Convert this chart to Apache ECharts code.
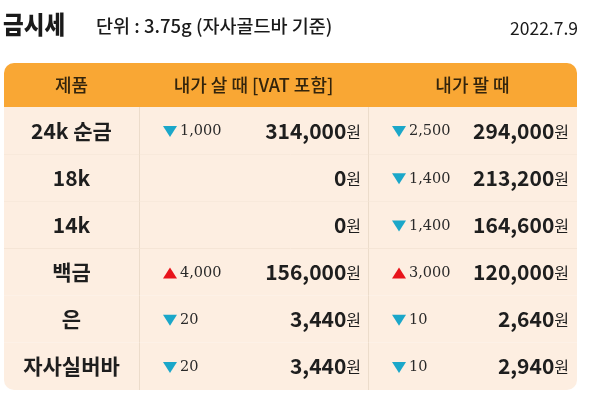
<!DOCTYPE html>
<html><head><meta charset="utf-8">
<script src="https://cdn.jsdelivr.net/npm/echarts@6/dist/echarts.min.js"></script>
<style>html,body{margin:0;padding:0;background:#fff}#c{width:595px;height:405px}</style>
</head><body><div id="c"></div>
<script>
const title = '금시세';
const unitText = '단위 : 3.75g (자사골드바 기준)';
const dateText = '2022.7.9';
const headers = ['제품', '내가 살 때 [VAT 포함]', '내가 팔 때'];
const products = ['24k 순금', '18k', '14k', '백금', '은', '자사실버바'];
const buyChange = [-1000, null, null, 4000, -20, -20];
const buyPrice = [314000, 0, 0, 156000, 3440, 3440];
const sellChange = [-2500, -1400, -1400, 3000, -10, -10];
const sellPrice = [294000, 213200, 164600, 120000, 2640, 2940];

const FONT = '"Noto Sans CJK KR", "Noto Sans", sans-serif';
const SERIF = '"DejaVu Serif", "Liberation Serif", serif';
const fmt = v => v.toLocaleString('en-US');
const C1 = 0.2356, C2 = 0.6353;
const HEADER_H = 44;

function tri(cx, cy, up) {
  const color = up ? '#e8141b' : '#1ba7c9';
  const pts = up ? [[cx - 7, cy + 5.5], [cx + 7, cy + 5.5], [cx, cy - 5.5]]
                 : [[cx - 7, cy - 5.5], [cx + 7, cy - 5.5], [cx, cy + 5.5]];
  return { type: 'polygon', shape: { points: pts }, style: { fill: color } };
}

function priceText(x, y, v) {
  return {
    type: 'text', x: x, y: y,
    style: {
      text: '{v|' + fmt(v) + '}{u|원}', align: 'right', verticalAlign: 'middle',
      rich: {
        v: { fontFamily: FONT, fontSize: 21, fontWeight: 'bold', fill: '#1e1e1e', lineHeight: 26 },
        u: { fontFamily: FONT, fontSize: 16, fill: '#1e1e1e', lineHeight: 26, padding: [2, 0, 0, 0] }
      }
    }
  };
}

function changeEls(colStart, y, v) {
  if (v === null || v === undefined) return [];
  return [
    tri(colStart + 31, y + 1, v > 0),
    { type: 'text', x: colStart + 41, y: y + 1,
      style: { text: fmt(Math.abs(v)), align: 'left', verticalAlign: 'middle',
               font: '14.5px ' + SERIF, fill: '#2a2a2a' } }
  ];
}

function renderItem(params, api) {
  const i = api.value(1);
  const cs = params.coordSys;
  const x0 = cs.x, w = cs.width, x3 = cs.x + cs.width;
  const c1 = x0 + w * C1, c2 = x0 + w * C2;
  const yc = api.coord([0, i])[1];
  const h = api.size([0, 1])[1];
  const top = yc - h / 2;
  const last = i === products.length - 1;
  const lineStyle = { stroke: '#ecdccb', lineWidth: 1 };
  const els = [
    { type: 'rect', shape: { x: x0, y: top, width: w, height: h, r: last ? [0, 0, 10, 10] : 0 },
      style: { fill: '#fdeee1' } },
    { type: 'line', shape: { x1: c1 + 0.5, y1: top, x2: c1 + 0.5, y2: top + h }, style: lineStyle },
    { type: 'line', shape: { x1: c2 + 0.5, y1: top, x2: c2 + 0.5, y2: top + h }, style: lineStyle }
  ];
  if (!last) {
    els.push({ type: 'line', shape: { x1: x0, y1: Math.round(top + h) + 0.5, x2: x3, y2: Math.round(top + h) + 0.5 }, style: lineStyle });
  }
  els.push({ type: 'text', x: (x0 + c1) / 2, y: yc,
    style: { text: products[i], align: 'center', verticalAlign: 'middle',
             fontFamily: FONT, fontSize: 21, fontWeight: 'bold', fill: '#1e1e1e' } });
  els.push(...changeEls(c1, yc, buyChange[i]));
  els.push(priceText(c2 - 7, yc, buyPrice[i]));
  els.push(...changeEls(c2, yc, sellChange[i]));
  els.push(priceText(x3 - 8, yc, sellPrice[i]));
  if (i === 0) {
    const ht = top - HEADER_H;
    els.push({ type: 'rect', shape: { x: x0, y: ht, width: w, height: HEADER_H, r: [10, 10, 0, 0] },
      style: { fill: '#f9a734' } });
    const centers = [(x0 + c1) / 2, (c1 + c2) / 2, (c2 + x3) / 2];
    headers.forEach((t, k) => {
      els.push({ type: 'text', x: centers[k], y: ht + HEADER_H / 2,
        style: { text: t, align: 'center', verticalAlign: 'middle',
                 fontFamily: FONT, fontSize: 18, fontWeight: 500, fill: '#33240c' } });
    });
  }
  return { type: 'group', children: els };
}

const chart = echarts.init(document.getElementById('c'), null, { renderer: 'canvas' });
chart.setOption({
  animation: false,
  backgroundColor: '#ffffff',
  grid: { left: 4, right: 18, top: 107, bottom: 15 },
  xAxis: { type: 'value', min: 0, max: 1, show: false },
  yAxis: { type: 'category', data: products, inverse: true, show: false },
  graphic: [
    { type: 'text', left: 3, top: 12, scaleY: 1.12,
      style: { text: title, fontFamily: FONT, fontSize: 22.5, fontWeight: 900, fill: '#1a1a1a' } },
    { type: 'text', left: 96, top: 17,
      style: { text: unitText, fontFamily: FONT, fontSize: 18.5, fontWeight: 500, fill: '#1a1a1a' } },
    { type: 'text', right: 17, top: 20,
      style: { text: dateText, fontFamily: FONT, fontSize: 17.5, fill: '#1a1a1a' } }
  ],
  series: [{
    type: 'custom',
    renderItem: renderItem,
    data: products.map((p, i) => [0, i]),
    silent: true
  }]
});
</script></body></html>
